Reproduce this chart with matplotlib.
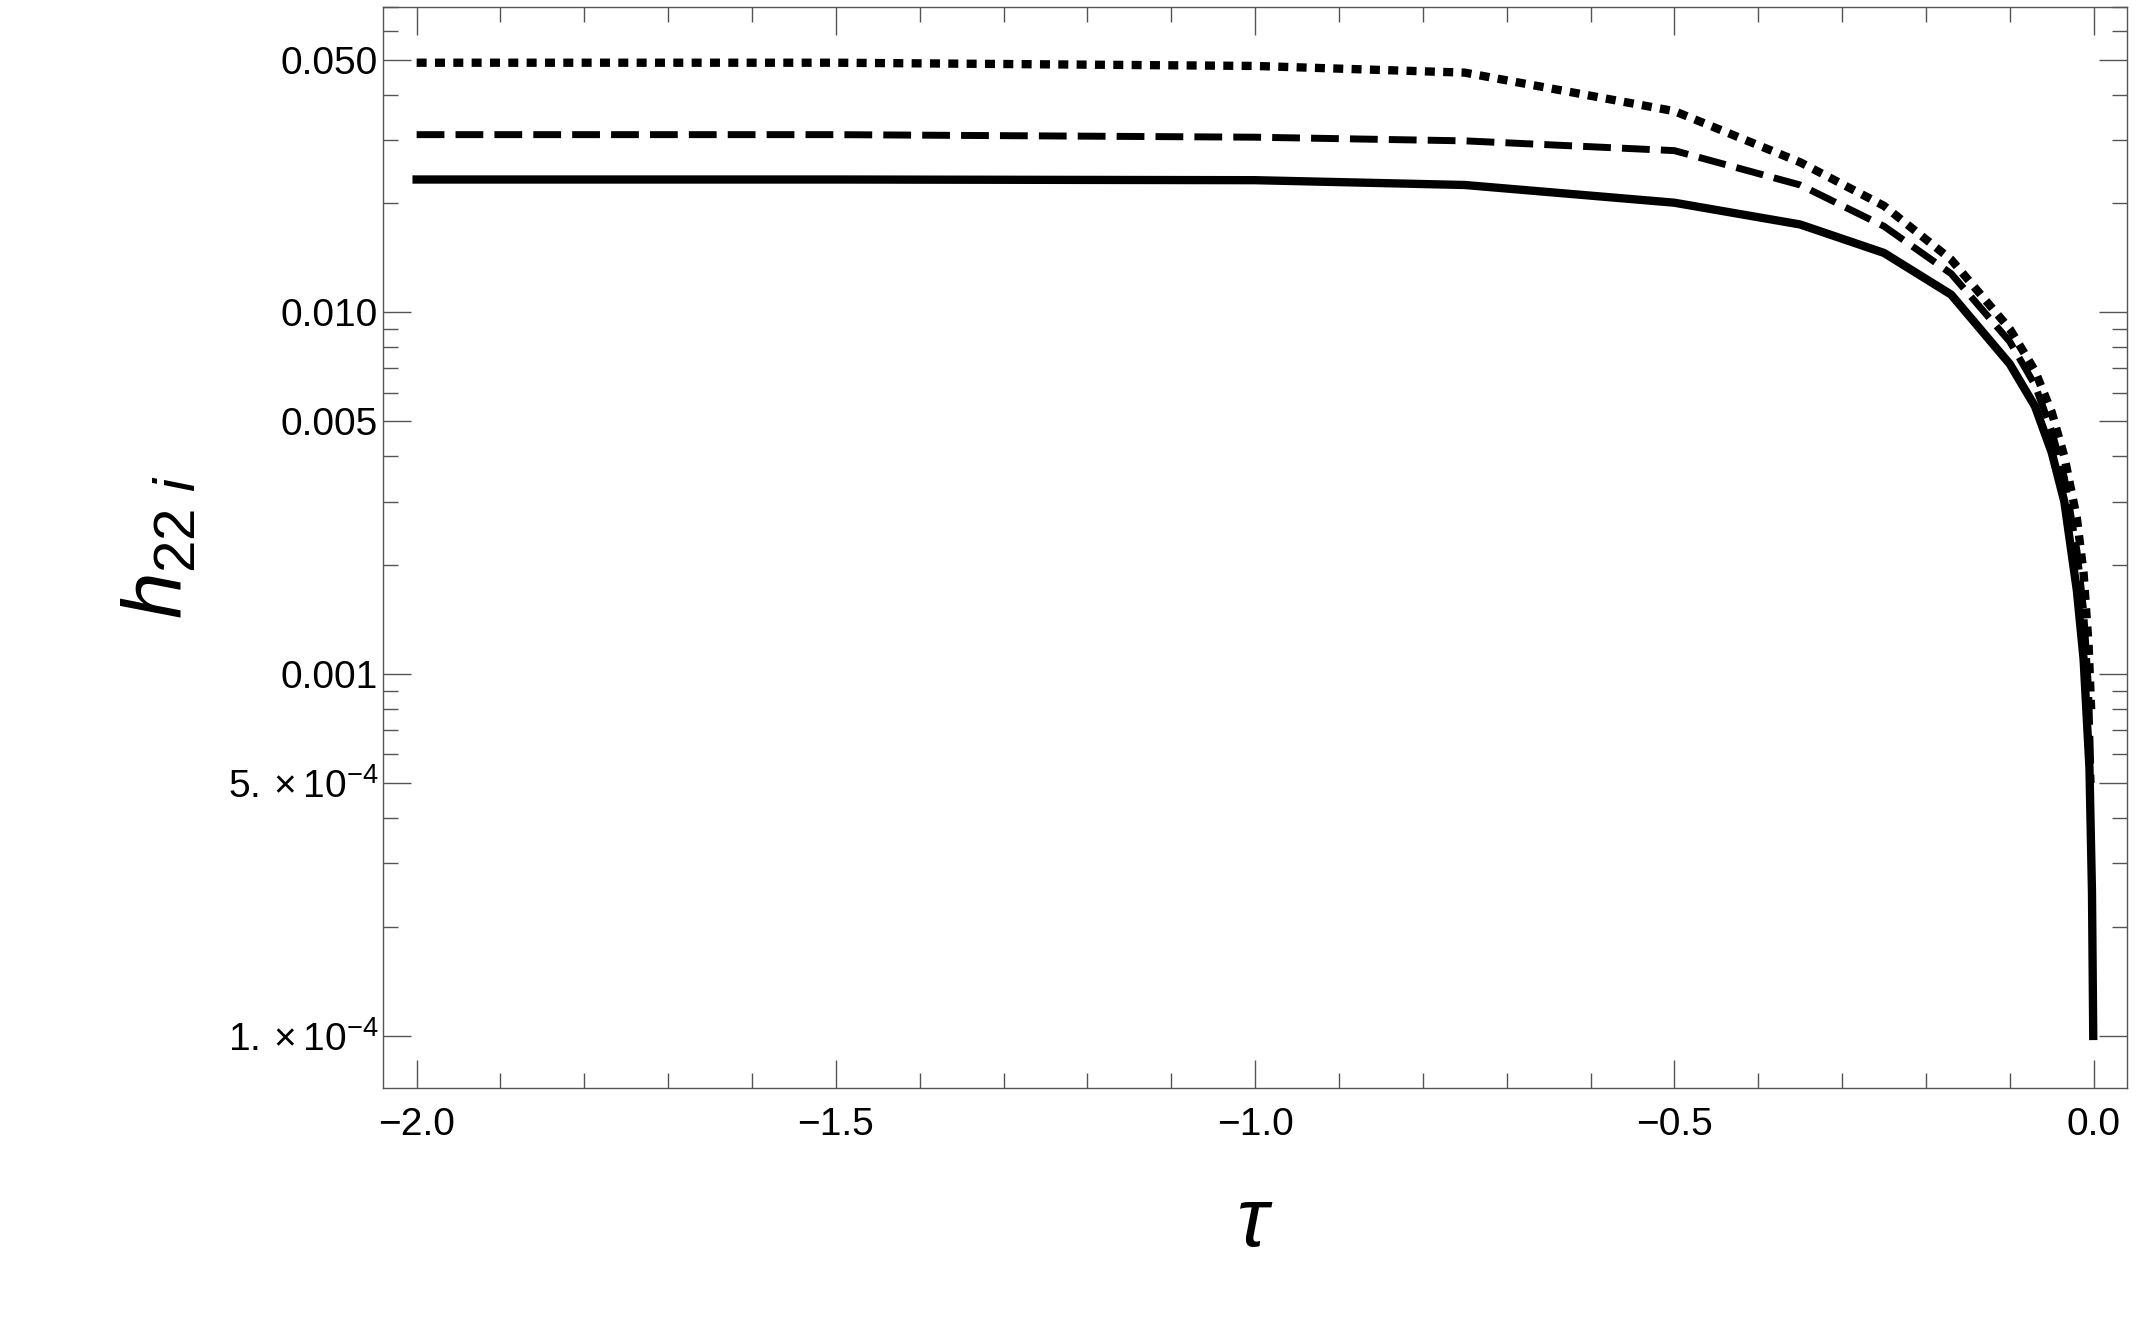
import matplotlib
matplotlib.use("Agg")
import matplotlib.pyplot as plt
from matplotlib.ticker import FixedLocator, FixedFormatter, MultipleLocator
import numpy as np

tau_solid = [-2.0, -1.5, -1.0, -0.75, -0.5, -0.35, -0.25, -0.17, -0.1, -0.07, -0.05, -0.035, -0.02, -0.012, -0.005, -0.002, -0.0005]
h_solid = [0.0233, 0.0233, 0.0232, 0.0225, 0.0201, 0.0175, 0.0146, 0.0112, 0.0072, 0.0055, 0.0041, 0.0030, 0.0017, 0.0011, 0.00055, 0.00025, 0.0001]

tau_dash = [-2.0, -1.5, -1.0, -0.75, -0.5, -0.35, -0.25, -0.17, -0.1, -0.07, -0.05, -0.035, -0.02, -0.012, -0.006, -0.003]
h_dash = [0.031, 0.031, 0.0305, 0.0298, 0.028, 0.0225, 0.0173, 0.0128, 0.0083, 0.0063, 0.0047, 0.0035, 0.0022, 0.0015, 0.0009, 0.0005]

tau_dot = [-2.0, -1.5, -1.0, -0.75, -0.5, -0.35, -0.25, -0.17, -0.1, -0.07, -0.05, -0.035, -0.02, -0.012, -0.006, -0.003]
h_dot = [0.049, 0.049, 0.048, 0.046, 0.036, 0.026, 0.0197, 0.0140, 0.0090, 0.0069, 0.0053, 0.0040, 0.0027, 0.0019, 0.0012, 0.0008]

ytick_vals = [1e-4, 5e-4, 1e-3, 5e-3, 1e-2, 5e-2]
ytick_labels = [r"$1.\times10^{-4}$", r"$5.\times10^{-4}$", "0.001", "0.005", "0.010", "0.050"]

plt.rcParams['font.family'] = ['Liberation Sans', 'DejaVu Sans']
plt.rcParams['mathtext.fontset'] = 'custom'
plt.rcParams['mathtext.rm'] = 'Liberation Sans'
plt.rcParams['mathtext.it'] = 'Liberation Sans:italic'

fig = plt.figure(figsize=(21.45, 13.35), dpi=100)
ax = fig.add_axes([0.1786, 0.185, 0.8131, 0.81])
ax.plot(tau_dot, h_dot, color='black', lw=6, linestyle=(0, (1.2, 1.0)))
ax.plot(tau_dash, h_dash, color='black', lw=5, linestyle=(0, (4, 1.6)))
ax.plot(tau_solid, h_solid, color='black', lw=6)
ax.set_yscale('log')
ax.set_xlim(-2.04, 0.04)
ax.set_ylim(10**-4.144, 0.070)
ax.yaxis.set_major_locator(FixedLocator(ytick_vals))
ax.yaxis.set_major_formatter(FixedFormatter(ytick_labels))
minor = [m * 10.0**e for e in (-4, -3, -2) for m in range(2, 10) if not (m == 5)]
ax.yaxis.set_minor_locator(FixedLocator(minor))
ax.yaxis.set_minor_formatter(FixedFormatter([""] * len(minor)))
ax.xaxis.set_major_locator(FixedLocator([-2.0, -1.5, -1.0, -0.5, 0.0]))
ax.xaxis.set_major_formatter(FixedFormatter(["\u22122.0", "\u22121.5", "\u22121.0", "\u22120.5", "0.0"]))
ax.xaxis.set_minor_locator(MultipleLocator(0.1))
ax.tick_params(which='both', direction='in', top=True, right=True, labelsize=28, width=1, color='#555555')
ax.tick_params(which='major', length=20)
ax.tick_params(which='minor', length=11)
ax.tick_params(axis='x', pad=14)
for s in ax.spines.values():
    s.set_color('#555555')
    s.set_linewidth(1)
ax.set_xlabel(r"$\tau$", fontsize=60, labelpad=30)
ax.set_ylabel(r"$h_{22\ i}$", fontsize=60, labelpad=20)
fig.savefig("out.png", dpi=100)
